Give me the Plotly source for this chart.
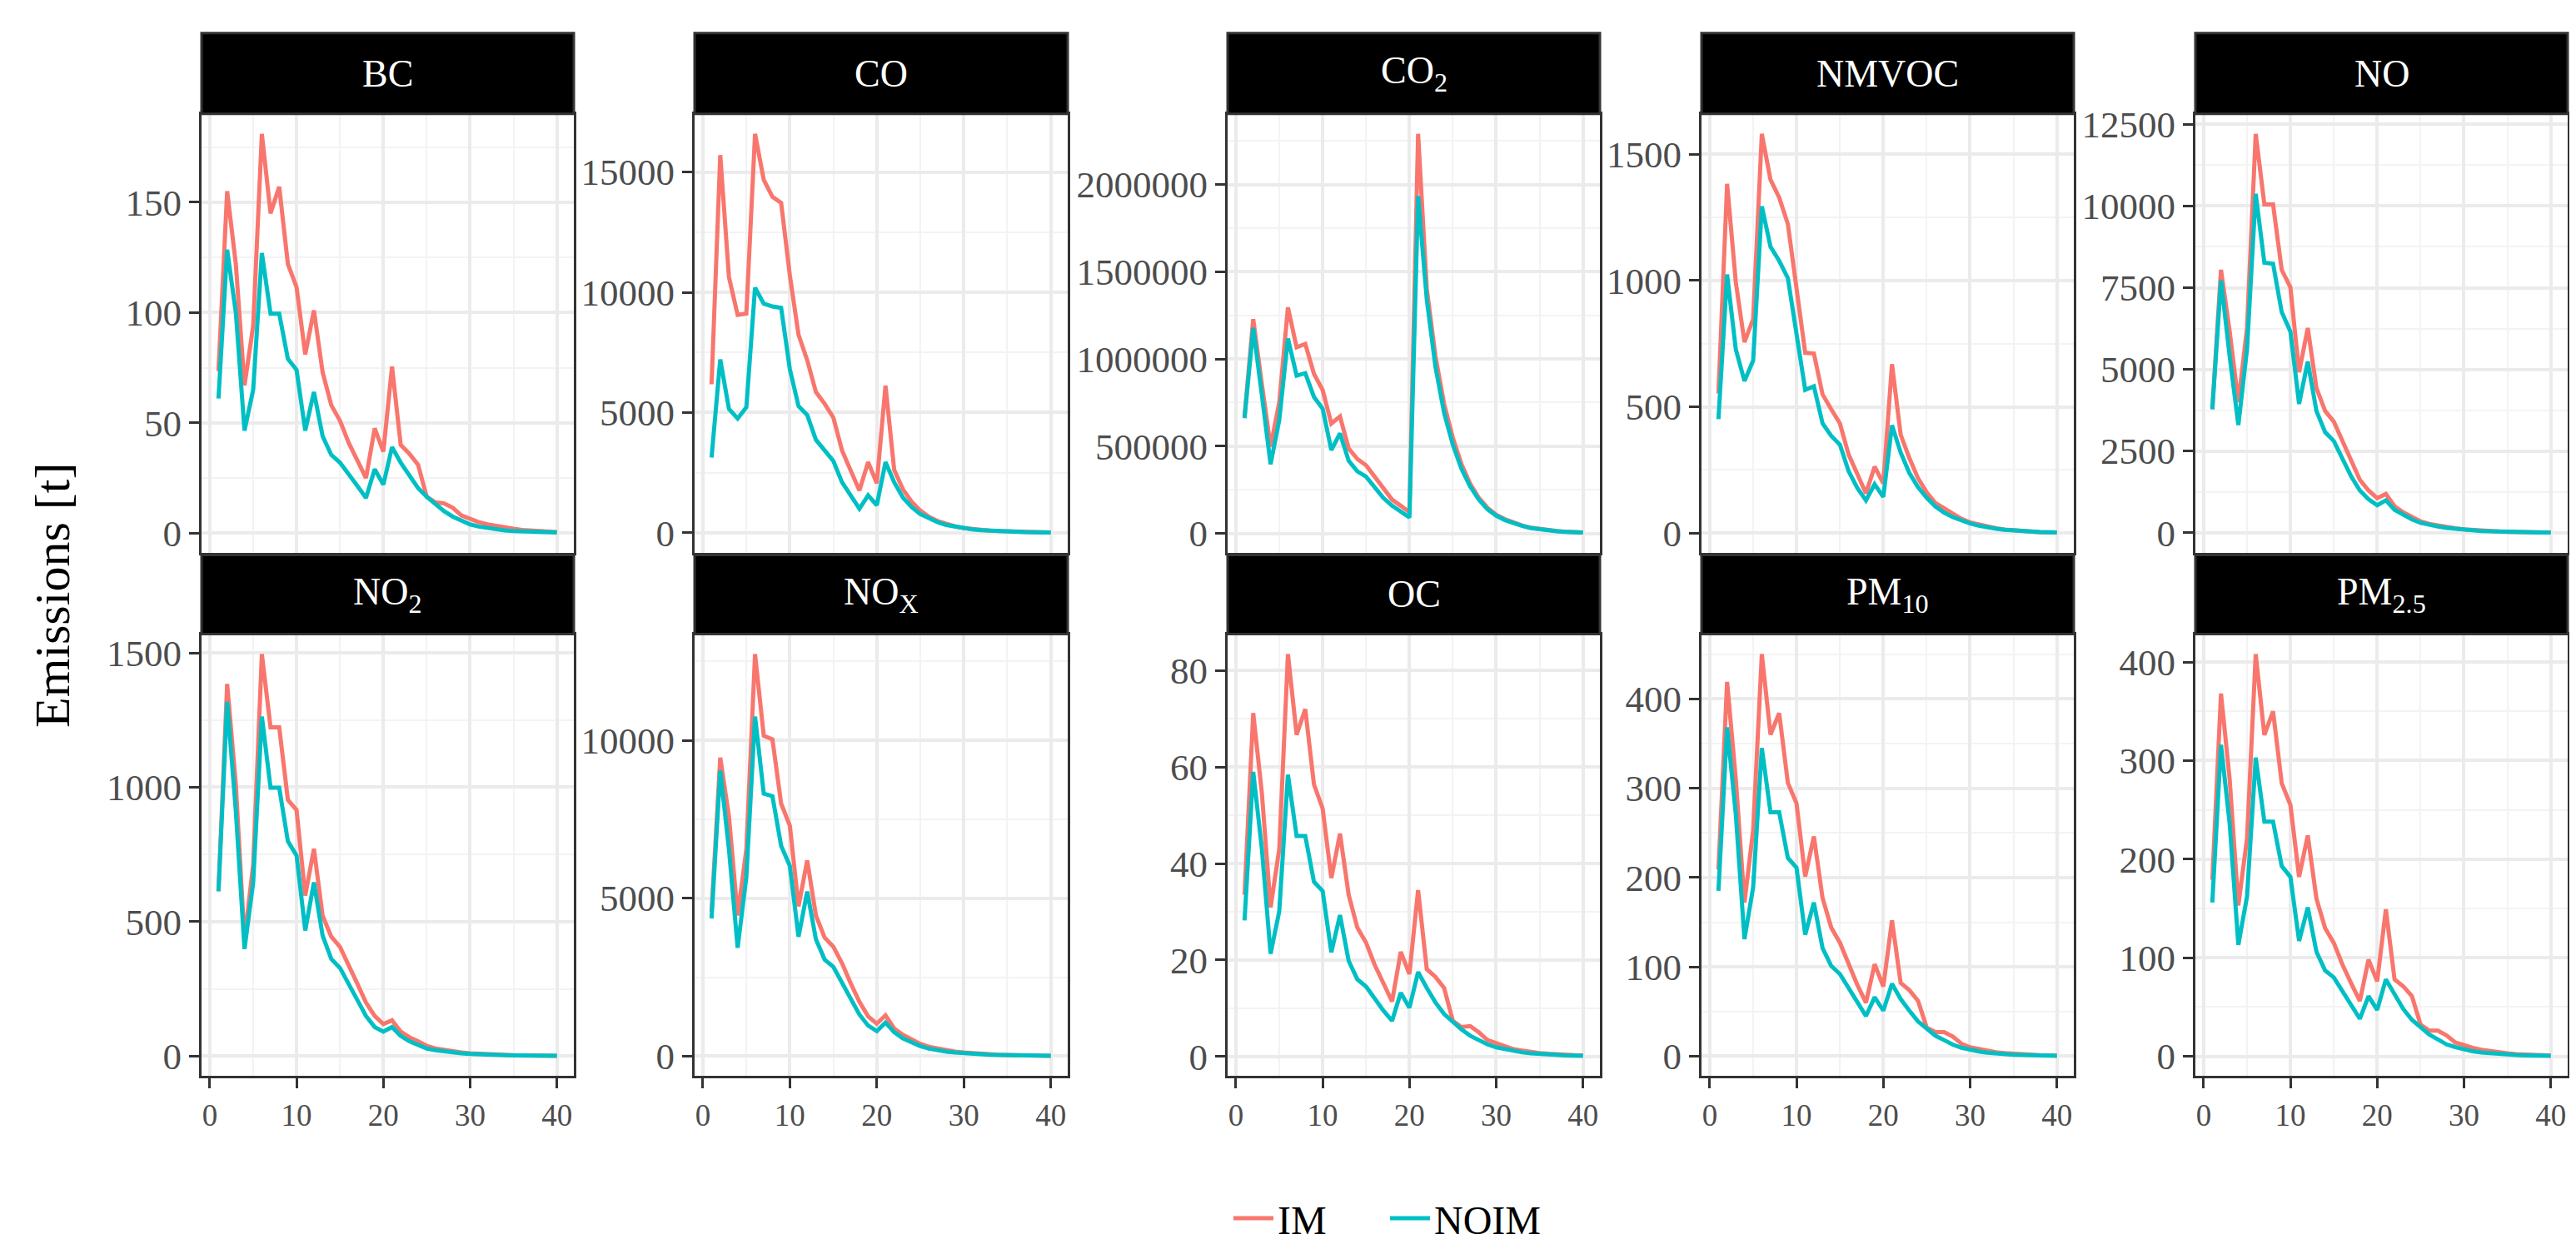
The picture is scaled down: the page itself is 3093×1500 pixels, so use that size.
import plotly.graph_objects as go

# ---------------- data ----------------
years = list(range(1, 41))

panel_keys = ["BC", "CO", "CO2", "NMVOC", "NO", "NO2", "NOX", "OC", "PM10", "PM25"]
panel_titles = ["BC", "CO", "CO<sub>2</sub>", "NMVOC", "NO",
                "NO<sub>2</sub>", "NO<sub>X</sub>", "OC", "PM<sub>10</sub>", "PM<sub>2.5</sub>"]
series_names = ["IM", "NOIM"]

bc_im = [73.5, 155, 122, 67, 94, 181, 145, 157, 122, 111.5,
         81, 101, 73, 58, 51, 41, 33, 25, 47.5, 37,
         75.5, 40, 36, 31, 16.5, 14, 13.5, 11.5, 8, 6.3,
         5, 4, 3.2, 2.5, 2, 1.5, 1.2, 0.8, 0.6, 0.5]
bc_noim = [61, 128.5, 100, 46.5, 65, 127, 99.5, 99.5, 79, 74,
           46.5, 64, 44, 35.5, 32, 27, 21.5, 16, 29, 22,
           39, 32, 26, 20.5, 16.5, 13, 10, 7.5, 5.5, 4,
           3, 2.3, 1.7, 1.3, 1, 0.8, 0.6, 0.5, 0.4, 0.3]

co_im = [6176, 15706, 10632, 9059, 9118, 16588, 14676, 13970, 13720, 10706,
         8235, 7176, 5853, 5368, 4794, 3426, 2588, 1765, 2941, 2059,
         6118, 2618, 1809, 1294, 926, 662, 485, 353, 265, 191,
         147, 118, 90, 70, 55, 40, 30, 22, 16, 12]
co_noim = [3132, 7206, 5147, 4750, 5221, 10191, 9529, 9412, 9353, 6809,
           5265, 4897, 3868, 3426, 2985, 2103, 1544, 1000, 1559, 1147,
           2941, 2103, 1470, 1074, 779, 588, 441, 324, 250, 191,
           145, 110, 85, 65, 50, 38, 28, 20, 15, 11]

co2_im = [670000, 1228000, 853000, 497000, 751000, 1295000, 1066000, 1086000, 914000, 822000,
          629000, 670000, 487000, 426000, 390000, 325000, 254000, 193000, 158000, 122000,
          2290000, 1401000, 1015000, 741000, 548000, 396000, 284000, 203000, 146000, 106000,
          81000, 61000, 45000, 32000, 24000, 18000, 13000, 9000, 7000, 5000]
co2_noim = [660000, 1178000, 792000, 396000, 650000, 1117000, 904000, 918000, 782000, 715000,
            477000, 573000, 416000, 355000, 325000, 264000, 203000, 158000, 122000, 91000,
            1933000, 1340000, 954000, 690000, 508000, 370000, 268000, 193000, 138000, 101000,
            76000, 57000, 42000, 30000, 22000, 16000, 12000, 8500, 6000, 4500]

nmvoc_im = [553, 1383, 994, 756, 847, 1581, 1399, 1329, 1224, 966,
            714, 711, 549, 490, 434, 311, 231, 157, 263, 196,
            669, 389, 297, 217, 161, 119, 98, 77, 56, 42,
            33, 25, 19, 14, 10, 8, 6, 4, 3, 2]
nmvoc_noim = [451, 1024, 728, 602, 683, 1294, 1134, 1078, 1010, 798,
              567, 581, 434, 385, 350, 245, 179, 129, 193, 143,
              427, 319, 238, 182, 140, 105, 81, 63, 49, 38,
              29, 22, 17, 13, 10, 7, 5, 4, 3, 2]

no_im = [3781, 8049, 6158, 3997, 6266, 12209, 10048, 10048, 8049, 7509,
         4916, 6266, 4430, 3727, 3403, 2809, 2161, 1621, 1296, 1059,
         1188, 810, 627, 486, 346, 270, 215, 170, 135, 105,
         82, 64, 50, 39, 30, 23, 18, 14, 11, 8]
no_noim = [3781, 7725, 5402, 3295, 5618, 10372, 8265, 8233, 6753, 6158,
           3943, 5240, 3727, 3079, 2809, 2269, 1729, 1296, 1026, 843,
           994, 702, 540, 411, 303, 238, 190, 150, 120, 93,
           72, 56, 44, 34, 26, 20, 16, 12, 9, 7]

no2_im = [613, 1384, 1011, 431, 713, 1495, 1223, 1223, 953, 915,
          597, 771, 522, 444, 406, 340, 269, 199, 149, 119,
          133, 91, 70, 55, 38, 28, 22, 17, 13, 10,
          8, 6, 5, 4, 3, 2.5, 2, 1.5, 1.2, 1]
no2_noim = [613, 1318, 912, 398, 646, 1263, 998, 998, 799, 746,
            467, 646, 448, 361, 328, 269, 207, 149, 108, 91,
            108, 75, 55, 40, 28, 22, 17, 13, 10, 8,
            6, 5, 4, 3, 2.5, 2, 1.5, 1.2, 1, 0.8]

nox_im = [4570, 9453, 7593, 4453, 6547, 12733, 10151, 10035, 8000, 7302,
          4744, 6198, 4453, 3756, 3465, 2942, 2302, 1721, 1256, 1023,
          1291, 872, 674, 523, 384, 291, 230, 180, 140, 110,
          85, 65, 50, 40, 30, 23, 18, 14, 11, 8]
nox_noim = [4360, 9047, 6547, 3430, 5674, 10756, 8314, 8233, 6663, 6023,
            3779, 5209, 3698, 3058, 2826, 2302, 1779, 1314, 965, 791,
            1058, 756, 558, 419, 314, 233, 180, 140, 110, 85,
            66, 51, 40, 31, 24, 19, 14, 11, 8, 6]

oc_im = [33.5, 71.2, 54.5, 30.9, 43, 83.4, 66.7, 72, 56.4, 51.4,
         37, 46.2, 33.5, 26.7, 23.6, 19, 15.2, 11.4, 21.7, 17.1,
         34.5, 18.1, 16.5, 14.2, 7.4, 6.1, 6.3, 5, 3.4, 2.7,
         2.1, 1.5, 1.2, 0.9, 0.7, 0.55, 0.4, 0.3, 0.25, 0.2]
oc_noim = [28.2, 59, 43, 21.3, 30.1, 58.4, 45.7, 45.7, 36.2, 34.3,
           21.6, 29.3, 19.8, 16, 14.5, 12, 9.5, 7.4, 13.2, 10.1,
           17.5, 14.2, 11.2, 8.8, 7.2, 5.6, 4.3, 3.4, 2.5, 1.9,
           1.5, 1.1, 0.85, 0.65, 0.5, 0.38, 0.3, 0.22, 0.17, 0.13]

pm10_im = [209, 419, 310, 172, 253, 450, 360, 384, 306, 283,
           201, 246, 177, 144, 127, 103, 80, 60, 103, 78,
           152, 82, 74, 62, 32, 27, 27, 22, 14, 10,
           8, 6, 4.5, 3.5, 2.7, 2, 1.5, 1.1, 0.8, 0.6]
pm10_noim = [185, 368, 271, 131, 189, 345, 273, 273, 222, 211,
             136, 172, 121, 101, 92, 76, 60, 45, 66, 51,
             81, 64, 51, 39, 31, 23, 18, 13, 9.5, 7,
             5.3, 4, 3, 2.3, 1.7, 1.3, 1, 0.7, 0.5, 0.4]

pm25_im = [179, 368, 281, 153, 221, 408, 326, 350, 277, 255,
           182, 224, 160, 130, 115, 93, 74, 56, 98, 76,
           149, 78, 71, 61, 32, 26, 26, 21, 14, 11,
           8.5, 6.5, 5, 3.8, 2.9, 2.2, 1.6, 1.2, 0.9, 0.7]
pm25_noim = [156, 316, 236, 113, 162, 303, 238, 238, 193, 182,
             117, 151, 106, 87, 80, 66, 52, 38, 61, 47,
             78, 62, 48, 37, 29, 22, 17, 12, 9.3, 6.7,
             5, 3.8, 2.9, 2.2, 1.6, 1.2, 0.9, 0.7, 0.5, 0.4]

y_ticks = {
    "BC": [0, 50, 100, 150],
    "CO": [0, 5000, 10000, 15000],
    "CO2": [0, 500000, 1000000, 1500000, 2000000],
    "NMVOC": [0, 500, 1000, 1500],
    "NO": [0, 2500, 5000, 7500, 10000, 12500],
    "NO2": [0, 500, 1000, 1500],
    "NOX": [0, 5000, 10000],
    "OC": [0, 20, 40, 60, 80],
    "PM10": [0, 100, 200, 300, 400],
    "PM25": [0, 100, 200, 300, 400],
}
x_ticks = [0, 10, 20, 30, 40]

series_data = {
    "BC": (bc_im, bc_noim), "CO": (co_im, co_noim), "CO2": (co2_im, co2_noim),
    "NMVOC": (nmvoc_im, nmvoc_noim), "NO": (no_im, no_noim), "NO2": (no2_im, no2_noim),
    "NOX": (nox_im, nox_noim), "OC": (oc_im, oc_noim), "PM10": (pm10_im, pm10_noim),
    "PM25": (pm25_im, pm25_noim),
}

# ---------------- styling / layout ----------------
W, H = 3093, 1500
FONT = "Liberation Serif"
colors = ["#F8766D", "#00BFC4"]
col_px = [(234, 681), (826, 1274), (1466, 1913), (2035, 2482), (2628, 3075)]
row_px = [(118, 650), (749, 1285)]
strip_px = [(20, 118), (653, 749)]
BORDER = "#333333"
GRID = "#EBEBEB"
GRID_MINOR = "#F3F3F3"

fig = go.Figure()
layout = dict(
    width=W, height=H,
    margin=dict(l=0, r=0, t=0, b=0),
    paper_bgcolor="white", plot_bgcolor="white",
    font=dict(family=FONT, color="black"),
    showlegend=True,
    legend=dict(orientation="h", x=1656 / W, y=1 - 1458 / H,
                xanchor="center", yanchor="middle",
                font=dict(family=FONT, size=48, color="black"),
                itemwidth=48, entrywidth=125, entrywidthmode="pixels",
                tracegroupgap=0, bgcolor="rgba(0,0,0,0)"),
)
shapes = []
annotations = []

xmin, xmax = min(years), max(years)
xpad = 0.05 * (xmax - xmin)
x_minor = [(a + b) / 2 for a, b in zip(x_ticks[:-1], x_ticks[1:])]

for k, key in enumerate(panel_keys):
    r, c = divmod(k, 5)
    x0, x1 = col_px[c]
    y0, y1 = row_px[r]
    s0, s1 = strip_px[r]
    idx = "" if k == 0 else str(k + 1)
    xa, ya = "x" + idx, "y" + idx

    im, noim = series_data[key]
    for j, (vals, name) in enumerate(zip((im, noim), series_names)):
        fig.add_trace(go.Scatter(
            x=years, y=vals, mode="lines", name=name,
            line=dict(color=colors[j], width=5),
            xaxis=xa, yaxis=ya, showlegend=(k == 0), legendgroup=name,
        ))

    allv = im + noim
    lo, hi = min(allv), max(allv)
    pad = 0.05 * (hi - lo)
    ticks = y_ticks[key]
    step = ticks[1] - ticks[0]
    yminor = [t + step / 2 for t in ticks]

    layout["xaxis" + idx] = dict(
        domain=[x0 / W, x1 / W], anchor=ya,
        range=[xmin - xpad, xmax + xpad],
        tickvals=x_ticks, ticktext=[str(t) for t in x_ticks],
        showticklabels=(r == 1),
        ticks="outside" if r == 1 else "", ticklen=12, tickwidth=3, tickcolor=BORDER,
        tickfont=dict(family=FONT, size=37, color="#4D4D4D"),
        showgrid=True, gridcolor=GRID, gridwidth=3.5,
        minor=dict(tickvals=x_minor, showgrid=True, gridcolor=GRID_MINOR, gridwidth=2.2),
        zeroline=False, showline=True, mirror=True, linecolor=BORDER, linewidth=3,
        fixedrange=True,
    )
    layout["yaxis" + idx] = dict(
        domain=[1 - y1 / H, 1 - y0 / H], anchor=xa,
        range=[lo - pad, hi + pad],
        tickvals=ticks, ticktext=[str(t) for t in ticks],
        ticks="outside", ticklen=12, tickwidth=3, tickcolor=BORDER,
        tickfont=dict(family=FONT, size=45, color="#4D4D4D"),
        showgrid=True, gridcolor=GRID, gridwidth=3.5,
        minor=dict(tickvals=yminor, showgrid=True, gridcolor=GRID_MINOR, gridwidth=2.2),
        zeroline=False, showline=True, mirror=True, linecolor=BORDER, linewidth=3,
        fixedrange=True,
    )

    # strip
    shapes.append(dict(type="rect", xref="paper", yref="paper",
                       x0=x0 / W, x1=x1 / W, y0=1 - s1 / H, y1=1 - s0 / H,
                       fillcolor="black", line=dict(color=BORDER, width=3), layer="above"))
    annotations.append(dict(text=panel_titles[k], xref="paper", yref="paper",
                            x=(x0 + x1) / 2 / W, y=1 - (s0 + s1) / 2 / H,
                            xanchor="center", yanchor="middle", showarrow=False,
                            font=dict(family=FONT, size=46, color="white")))

annotations.append(dict(text="Emissions [t]", xref="paper", yref="paper",
                        x=55 / W, y=1 - 702 / H, xanchor="center", yanchor="middle",
                        textangle=-90, showarrow=False,
                        font=dict(family=FONT, size=60, color="black")))

layout["shapes"] = shapes
layout["annotations"] = annotations
fig.update_layout(**layout)
fig.write_html("out.html")
